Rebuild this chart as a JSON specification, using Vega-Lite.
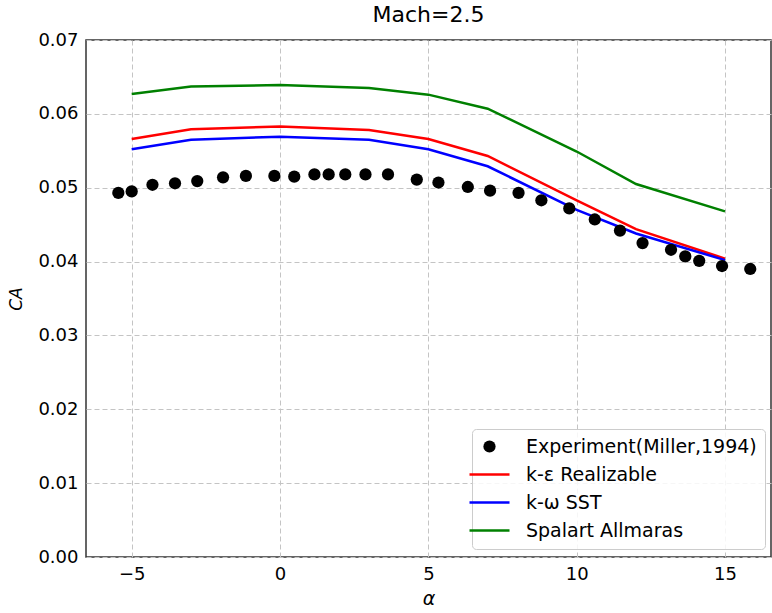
{
  "$schema": "https://vega.github.io/schema/vega-lite/v6.json",
  "width": 685,
  "height": 517,
  "autosize": {"type": "none"},
  "padding": {"left": 86, "top": 40, "right": 1, "bottom": 56},
  "background": "white",
  "title": {"text": "Mach=2.5", "fontSize": 22, "fontWeight": "normal", "font": "DejaVu Sans", "color": "#000000", "offset": 13, "anchor": "middle", "frame": "group", "baseline": "alphabetic", "dy": 26},
  "config": {
    "font": "DejaVu Sans",
    "view": {"stroke": "#333333", "strokeWidth": 1.5},
    "axis": {
      "domain": false,
      "ticks": false,
      "grid": true,
      "gridColor": "#c4c4c4",
      "gridDash": [5, 3],
      "gridWidth": 1,
      "labelFont": "DejaVu Sans",
      "labelFontSize": 18,
      "labelColor": "#000000",
      "titleFont": "DejaVu Sans",
      "titleColor": "#000000",
      "titleFontWeight": "normal"
    }
  },
  "data": {
    "values": [
      {"series": "Experiment(Miller,1994)", "alpha": -5.45, "ca": 0.0493},
      {"series": "Experiment(Miller,1994)", "alpha": -5.0, "ca": 0.0495},
      {"series": "Experiment(Miller,1994)", "alpha": -4.3, "ca": 0.0504},
      {"series": "Experiment(Miller,1994)", "alpha": -3.54, "ca": 0.0506},
      {"series": "Experiment(Miller,1994)", "alpha": -2.79, "ca": 0.0509},
      {"series": "Experiment(Miller,1994)", "alpha": -1.92, "ca": 0.0514},
      {"series": "Experiment(Miller,1994)", "alpha": -1.15, "ca": 0.0516},
      {"series": "Experiment(Miller,1994)", "alpha": -0.19, "ca": 0.0516},
      {"series": "Experiment(Miller,1994)", "alpha": 0.48, "ca": 0.0515},
      {"series": "Experiment(Miller,1994)", "alpha": 1.16, "ca": 0.0518},
      {"series": "Experiment(Miller,1994)", "alpha": 1.64, "ca": 0.0518},
      {"series": "Experiment(Miller,1994)", "alpha": 2.2, "ca": 0.0518},
      {"series": "Experiment(Miller,1994)", "alpha": 2.88, "ca": 0.0518},
      {"series": "Experiment(Miller,1994)", "alpha": 3.64, "ca": 0.0518},
      {"series": "Experiment(Miller,1994)", "alpha": 4.61, "ca": 0.0511},
      {"series": "Experiment(Miller,1994)", "alpha": 5.34, "ca": 0.0507},
      {"series": "Experiment(Miller,1994)", "alpha": 6.33, "ca": 0.0501},
      {"series": "Experiment(Miller,1994)", "alpha": 7.08, "ca": 0.0496},
      {"series": "Experiment(Miller,1994)", "alpha": 8.04, "ca": 0.0493},
      {"series": "Experiment(Miller,1994)", "alpha": 8.81, "ca": 0.0483},
      {"series": "Experiment(Miller,1994)", "alpha": 9.75, "ca": 0.0472},
      {"series": "Experiment(Miller,1994)", "alpha": 10.61, "ca": 0.0457},
      {"series": "Experiment(Miller,1994)", "alpha": 11.46, "ca": 0.0442},
      {"series": "Experiment(Miller,1994)", "alpha": 12.22, "ca": 0.0425},
      {"series": "Experiment(Miller,1994)", "alpha": 13.18, "ca": 0.0416},
      {"series": "Experiment(Miller,1994)", "alpha": 13.66, "ca": 0.0407},
      {"series": "Experiment(Miller,1994)", "alpha": 14.13, "ca": 0.0401},
      {"series": "Experiment(Miller,1994)", "alpha": 14.9, "ca": 0.0394},
      {"series": "Experiment(Miller,1994)", "alpha": 15.85, "ca": 0.039},
      {"series": "k-ε Realizable", "alpha": -5, "ca": 0.0566},
      {"series": "k-ε Realizable", "alpha": -3, "ca": 0.0579},
      {"series": "k-ε Realizable", "alpha": 0, "ca": 0.0583},
      {"series": "k-ε Realizable", "alpha": 3, "ca": 0.0578},
      {"series": "k-ε Realizable", "alpha": 5, "ca": 0.0566},
      {"series": "k-ε Realizable", "alpha": 7, "ca": 0.0543},
      {"series": "k-ε Realizable", "alpha": 10, "ca": 0.0483},
      {"series": "k-ε Realizable", "alpha": 12, "ca": 0.0444},
      {"series": "k-ε Realizable", "alpha": 15, "ca": 0.0404},
      {"series": "k-ω SST", "alpha": -5, "ca": 0.0552},
      {"series": "k-ω SST", "alpha": -3, "ca": 0.0565},
      {"series": "k-ω SST", "alpha": 0, "ca": 0.0569},
      {"series": "k-ω SST", "alpha": 3, "ca": 0.0565},
      {"series": "k-ω SST", "alpha": 5, "ca": 0.0552},
      {"series": "k-ω SST", "alpha": 7, "ca": 0.0529},
      {"series": "k-ω SST", "alpha": 10, "ca": 0.047},
      {"series": "k-ω SST", "alpha": 12, "ca": 0.0438},
      {"series": "k-ω SST", "alpha": 15, "ca": 0.0402},
      {"series": "Spalart Allmaras", "alpha": -5, "ca": 0.0627},
      {"series": "Spalart Allmaras", "alpha": -3, "ca": 0.0637},
      {"series": "Spalart Allmaras", "alpha": 0, "ca": 0.0639},
      {"series": "Spalart Allmaras", "alpha": 3, "ca": 0.0635},
      {"series": "Spalart Allmaras", "alpha": 5, "ca": 0.0626},
      {"series": "Spalart Allmaras", "alpha": 7, "ca": 0.0607},
      {"series": "Spalart Allmaras", "alpha": 10, "ca": 0.0549},
      {"series": "Spalart Allmaras", "alpha": 12, "ca": 0.0505},
      {"series": "Spalart Allmaras", "alpha": 15, "ca": 0.0468}
    ]
  },
  "encoding": {
    "x": {
      "field": "alpha", "type": "quantitative",
      "scale": {"domain": [-6.54, 16.55], "nice": false, "zero": false},
      "axis": {"values": [-5, 0, 5, 10, 15], "labelExpr": "replace(datum.label, '-', '−')", "title": "α", "titleFontSize": 19, "titleFontStyle": "italic", "titlePadding": 6, "labelPadding": 8}
    },
    "y": {
      "field": "ca", "type": "quantitative",
      "scale": {"domain": [0, 0.07], "nice": false},
      "axis": {"values": [0, 0.01, 0.02, 0.03, 0.04, 0.05, 0.06, 0.07], "format": ".2f", "title": "CA", "titleFontSize": 17, "titleFontStyle": "italic", "titlePadding": 12, "labelPadding": 8}
    },
    "color": {
      "field": "series", "type": "nominal",
      "scale": {
        "domain": ["Experiment(Miller,1994)", "k-ε Realizable", "k-ω SST", "Spalart Allmaras"],
        "range": ["#000000", "#ff0000", "#0000ff", "#008000"]
      },
      "legend": {
        "title": null,
        "orient": "none",
        "legendX": 386,
        "legendY": 389,
        "labelFontSize": 19,
        "labelFont": "DejaVu Sans",
        "labelColor": "#000000",
        "labelLimit": 400,
        "symbolSize": 1600,
        "symbolType": "stroke",
        "symbolStrokeWidth": 2.5,
        "labelOffset": 27,
        "rowPadding": 8,
        "padding": 8,
        "strokeColor": "#cccccc",
        "fillColor": "rgba(255,255,255,0.85)",
        "cornerRadius": 4,
        "encode": {
          "symbols": {
            "update": {
              "shape": {"signal": "datum.value === 'Experiment(Miller,1994)' ? 'circle' : 'stroke'"},
              "size": {"signal": "datum.value === 'Experiment(Miller,1994)' ? 150 : 1600"},
              "fill": {"signal": "datum.value === 'Experiment(Miller,1994)' ? '#000000' : 'transparent'"},
              "stroke": {"signal": "scale('color', datum.value)"},
              "strokeWidth": {"signal": "datum.value === 'Experiment(Miller,1994)' ? 0 : 2.5"},
              "opacity": {"value": 1}
            }
          }
        }
      }
    }
  },
  "layer": [
    {
      "transform": [{"filter": "datum.series !== 'Experiment(Miller,1994)'"}],
      "mark": {"type": "line", "strokeWidth": 2.5}
    },
    {
      "transform": [{"filter": "datum.series === 'Experiment(Miller,1994)'"}],
      "mark": {"type": "point", "filled": true, "size": 150, "opacity": 1}
    }
  ]
}
